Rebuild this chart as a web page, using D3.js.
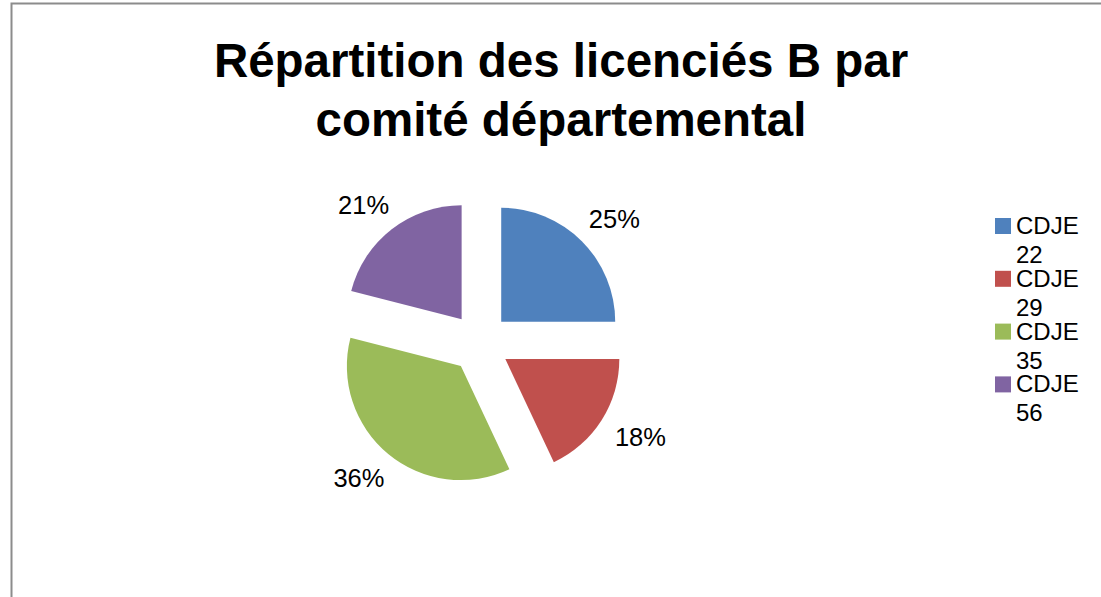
<!DOCTYPE html>
<html>
<head>
<meta charset="utf-8">
<script src="https://cdn.jsdelivr.net/npm/d3@7"></script>
<style>
  html, body { margin: 0; padding: 0; background: #fff; }
  svg { display: block; font-family: Arial, "Liberation Sans", sans-serif; }
</style>
</head>
<body>
<svg id="chart" width="1101" height="597"></svg>
<script>
(function () {
    'use strict';

    var titleLines = ["Répartition des licenciés B par", "comité départemental"];
    var categories = ["CDJE 22", "CDJE 29", "CDJE 35", "CDJE 56"];
    var values = [25, 18, 36, 21];
    var colors = ["#4f81bd", "#c0504d", "#9bbb59", "#8064a2"];

    var svg = d3.select("#chart");

    // frame of the chart area
    svg.append("rect")
        .attr("x", 11.5).attr("y", 3.5)
        .attr("width", 1200).attr("height", 700)
        .attr("fill", "none")
        .attr("stroke", "#8c8c8c")
        .attr("stroke-width", 2);

    svg.selectAll(".title")
        .data(titleLines)
        .enter()
        .append("text")
        .attr("class", "title")
        .attr("x", 561)
        .attr("y", function (d, i) { return 77 + i * 59; })
        .attr("text-anchor", "middle")
        .attr("font-size", 47.5)
        .attr("font-weight", "bold")
        .attr("fill", "#000")
        .text(function (d) { return d; });

    var cx = 480, cy = 343, radius = 114, explode = 30;
    var labelRx = 190, labelRy = 175;
    var total = d3.sum(values);

    var pie = d3.pie().sort(null).value(function (d) { return d; });
    var arc = d3.arc().innerRadius(0).outerRadius(radius);
    var arcs = pie(values);

    var g = svg.append("g").attr("transform", "translate(" + cx + "," + cy + ")");

    function mid(d) { return (d.startAngle + d.endAngle) / 2; }

    var slices = g.selectAll("g.slice")
        .data(arcs)
        .enter()
        .append("g")
        .attr("class", "slice")
        .attr("transform", function (d) {
            var a = mid(d);
            return "translate(" + (Math.sin(a) * explode) + "," + (-Math.cos(a) * explode) + ")";
        });

    slices.append("path")
        .attr("d", arc)
        .attr("fill", function (d, i) { return colors[i]; });

    g.selectAll("text.pct")
        .data(arcs)
        .enter()
        .append("text")
        .attr("class", "pct")
        .attr("x", function (d) { return Math.sin(mid(d)) * labelRx; })
        .attr("y", function (d) { return -Math.cos(mid(d)) * labelRy; })
        .attr("dy", "0.35em")
        .attr("text-anchor", "middle")
        .attr("font-size", 25.5)
        .attr("fill", "#000")
        .text(function (d) { return Math.round(d.value / total * 100) + "%"; });

    // legend
    var legend = svg.selectAll("g.legend")
        .data(categories)
        .enter()
        .append("g")
        .attr("class", "legend")
        .attr("transform", function (d, i) { return "translate(995," + (234 + i * 52.8) + ")"; });

    legend.append("rect")
        .attr("x", 0).attr("y", -16)
        .attr("width", 16).attr("height", 16)
        .attr("fill", function (d, i) { return colors[i]; });

    legend.append("text")
        .attr("x", 21).attr("y", 0)
        .attr("font-size", 24)
        .attr("fill", "#000")
        .selectAll("tspan")
        .data(function (d) { return d.split(" "); })
        .enter()
        .append("tspan")
        .attr("x", 21)
        .attr("dy", function (d, i) { return i === 0 ? 0 : 29; })
        .text(function (d) { return d; });
})();
</script>
</body>
</html>
